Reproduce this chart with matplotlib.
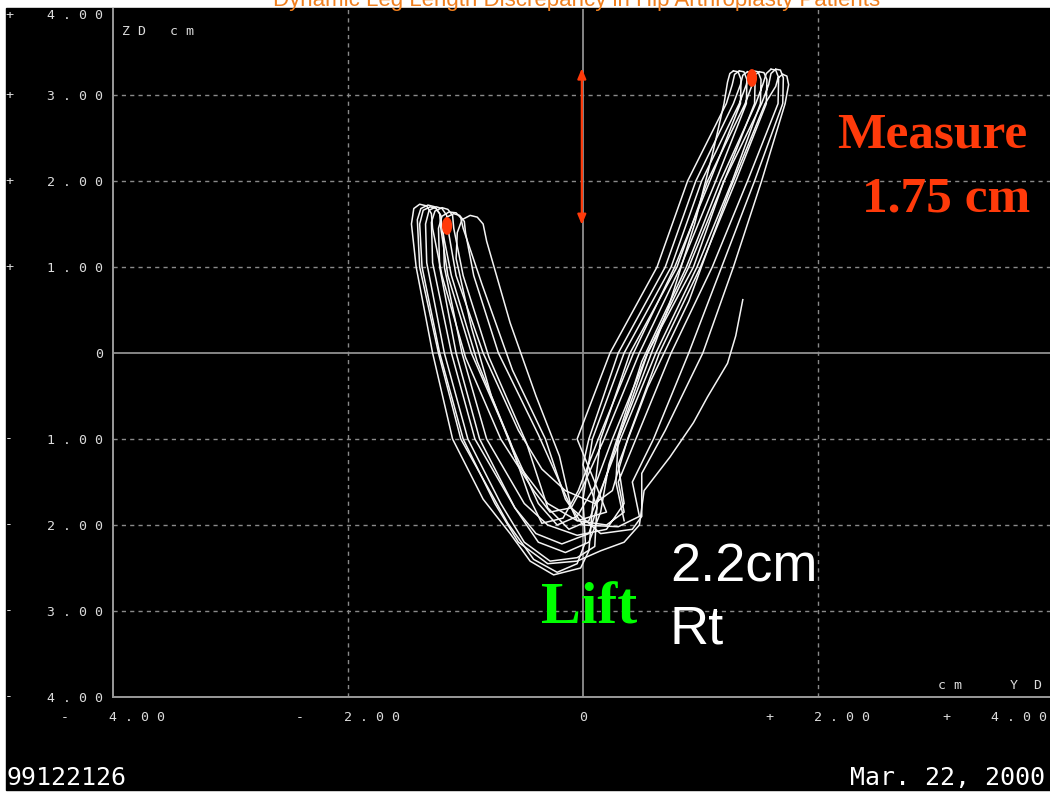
"""
Dynamic leg length plot: ZD vs YD trace of a hip arthroplasty patient.
"""

import matplotlib
matplotlib.use("Agg")
import matplotlib.pyplot as plt
import matplotlib.transforms as mtransforms
from matplotlib.patches import Ellipse, Rectangle

W, H = 1050, 794

# Axis ticks (cm)
yd_ticks = [-4, -2, 0, 2, 4]
yd_labels = ["-     4 . 0 0", "-     2 . 0 0", "0", "+     2 . 0 0", "+     4 . 0 0"]
zd_ticks = [-4, -3, -2, -1, 0, 1, 2, 3, 4]
zd_labels = ["4 . 0 0", "3 . 0 0", "2 . 0 0", "1 . 0 0", "0",
             "1 . 0 0", "2 . 0 0", "3 . 0 0", "4 . 0 0"]
zd_signs = ["-", "-", "-", "-", "", "+", "+", "+", "+"]

# Traced gait cycles, (YD, ZD) in cm
cycle_0 = [(0.35, -1.95), (0.28, -1.5), (0.3, -1.0), (0.5, -0.3), (0.72, 0.5), (0.95, 1.5),
           (1.1, 2.3), (1.2, 2.9), (1.23, 3.15), (1.25, 3.25), (1.28, 3.28)]
cycle_1 = [(1.28, 3.28), (1.32, 3.27), (1.345, 3.18), (1.34, 2.9), (1.08, 2.0), (0.78, 1.0),
           (0.43, 0.0), (0.13, -1.0), (-0.04, -1.6), (-0.17, -1.92), (-0.35, -1.98),
           (-0.45, -1.7), (-0.63, -1.0), (-0.95, 0.0), (-1.15, 0.9), (-1.21, 1.45),
           (-1.22, 1.62), (-1.26, 1.7), (-1.32, 1.72), (-1.38, 1.68), (-1.41, 1.55),
           (-1.39, 1.0), (-1.23, 0.0), (-1.04, -1.0), (-0.64, -1.98), (-0.42, -2.4),
           (-0.22, -2.55), (-0.05, -2.45), (0.02, -2.2), (0.0, -1.7), (0.08, -1.0),
           (0.35, 0.0), (0.75, 1.0), (1.01, 2.0), (1.33, 2.9), (1.39, 3.12), (1.41, 3.24),
           (1.45, 3.28)]
cycle_2 = [(1.45, 3.28), (1.49, 3.27), (1.515, 3.18), (1.51, 2.9), (1.27, 2.0), (0.97, 1.0),
           (0.62, 0.0), (0.32, -1.0), (0.15, -1.6), (0.05, -1.95), (-0.12, -2.05),
           (-0.3, -1.8), (-0.48, -1.05), (-0.80, -0.05), (-1.02, 0.9), (-1.10, 1.45),
           (-1.11, 1.6), (-1.15, 1.67), (-1.2, 1.69), (-1.26, 1.65), (-1.29, 1.52),
           (-1.28, 1.05), (-1.12, 0.0), (-0.92, -1.0), (-0.58, -1.8), (-0.38, -2.2),
           (-0.15, -2.32), (0.05, -2.2), (0.15, -1.85), (0.22, -1.3), (0.5, -0.1),
           (0.88, 1.0), (1.17, 2.0), (1.47, 2.9), (1.53, 3.12), (1.56, 3.25), (1.60, 3.3)]
cycle_3 = [(1.60, 3.3), (1.64, 3.29), (1.665, 3.2), (1.66, 2.9), (1.40, 2.0), (1.1, 1.0),
           (0.75, 0.0), (0.45, -1.0), (0.3, -1.5), (0.35, -1.85), (0.2, -2.0),
           (-0.05, -1.95), (-0.2, -1.5), (-0.38, -0.95), (-0.72, 0.0), (-0.93, 0.9),
           (-1.0, 1.4), (-1.01, 1.53), (-1.05, 1.6), (-1.1, 1.62), (-1.16, 1.58),
           (-1.19, 1.45), (-1.18, 1.0), (-1.03, 0.0), (-0.82, -1.0), (-0.5, -1.75),
           (-0.3, -2.0), (-0.05, -2.12), (0.2, -2.05), (0.35, -1.75), (0.3, -1.3),
           (0.55, -0.4), (0.9, 0.6), (1.25, 1.9), (1.55, 2.9), (1.64, 3.1), (1.66, 3.2),
           (1.70, 3.24)]
cycle_4 = [(1.70, 3.24), (1.735, 3.22), (1.75, 3.12), (1.72, 2.9), (1.52, 2.0), (1.28, 1.0),
           (1.02, 0.0), (0.7, -0.9), (0.5, -1.4), (0.5, -1.9), (0.42, -2.05),
           (0.15, -2.1), (-0.1, -1.8), (-0.2, -1.2), (-0.4, -0.5), (-0.62, 0.35),
           (-0.82, 1.3), (-0.85, 1.5), (-0.9, 1.58), (-0.96, 1.6), (-1.03, 1.55),
           (-1.07, 1.4), (-1.08, 1.1), (-0.95, 0.3), (-0.78, -0.5), (-0.55, -1.3),
           (-0.3, -1.75), (-0.05, -1.95), (0.2, -1.85), (0.1, -1.5), (-0.05, -1.0),
           (0.23, 0.0), (0.63, 1.0), (0.89, 2.0), (1.22, 2.9), (1.27, 3.12), (1.29, 3.24),
           (1.33, 3.28)]
cycle_5 = [(1.33, 3.28), (1.37, 3.27), (1.395, 3.18), (1.39, 2.9), (1.13, 2.0), (0.83, 1.0),
           (0.48, 0.0), (0.18, -1.0), (0.0, -1.55), (-0.1, -1.8), (-0.28, -1.85),
           (-0.42, -1.6), (-0.7, -1.0), (-1.0, -0.05), (-1.2, 0.9), (-1.28, 1.45),
           (-1.29, 1.62), (-1.33, 1.71), (-1.39, 1.73), (-1.44, 1.68), (-1.46, 1.5),
           (-1.42, 1.0), (-1.28, 0.0), (-1.11, -1.0), (-0.85, -1.7), (-0.62, -2.1),
           (-0.45, -2.42), (-0.25, -2.58), (-0.02, -2.5), (0.05, -2.3), (0.08, -1.8),
           (0.15, -1.0), (0.4, 0.0), (0.8, 1.0), (1.06, 2.0), (1.38, 2.9), (1.44, 3.12),
           (1.46, 3.23), (1.50, 3.27)]
cycle_6 = [(1.50, 3.27), (1.54, 3.26), (1.565, 3.18), (1.56, 2.9), (1.3, 2.0), (1.0, 1.0),
           (0.65, 0.0), (0.38, -1.0), (0.25, -1.6), (0.1, -1.75), (-0.15, -1.6),
           (-0.35, -1.35), (-0.55, -0.9), (-0.85, 0.0), (-1.08, 0.9), (-1.15, 1.45),
           (-1.16, 1.6), (-1.2, 1.68), (-1.25, 1.7), (-1.31, 1.66), (-1.34, 1.5),
           (-1.33, 1.05), (-1.18, 0.0), (-0.98, -1.0), (-0.7, -1.75), (-0.5, -2.2),
           (-0.28, -2.42), (-0.05, -2.38), (0.1, -2.25), (0.12, -1.75), (0.3, -1.0),
           (0.55, 0.0), (0.94, 1.0), (1.2, 2.0), (1.52, 2.9), (1.58, 3.12), (1.60, 3.25),
           (1.64, 3.3)]
cycle_7 = [(1.64, 3.3), (1.68, 3.29), (1.705, 3.2), (1.7, 2.9), (1.46, 2.0), (1.18, 1.0),
           (0.9, 0.0), (0.6, -1.0), (0.42, -1.5), (0.48, -1.9), (0.3, -2.02), (0.0, -2.0),
           (-0.15, -1.7), (-0.32, -1.0), (-0.6, -0.2), (-0.86, 0.8), (-1.02, 1.45),
           (-1.04, 1.57), (-1.08, 1.63), (-1.14, 1.64), (-1.2, 1.59), (-1.23, 1.45),
           (-1.22, 1.0), (-1.08, 0.0), (-0.88, -1.0), (-0.58, -1.8), (-0.4, -2.1),
           (-0.18, -2.22), (0.05, -2.1), (0.12, -1.8), (0.0, -1.3), (0.05, -1.0),
           (0.3, 0.0), (0.7, 1.0), (0.96, 2.0), (1.28, 2.9), (1.34, 3.12), (1.36, 3.23),
           (1.40, 3.27)]
cycle_8 = [(1.40, 3.27), (1.44, 3.26), (1.465, 3.18), (1.46, 2.9), (1.2, 2.0), (0.9, 1.0),
           (0.55, 0.0), (0.25, -1.0), (0.1, -1.55), (-0.05, -1.9), (-0.22, -2.0),
           (-0.38, -1.75), (-0.6, -1.1), (-0.9, -0.1), (-1.12, 0.9), (-1.2, 1.45),
           (-1.21, 1.6), (-1.25, 1.68), (-1.3, 1.7), (-1.36, 1.66), (-1.39, 1.5),
           (-1.37, 1.0), (-1.22, 0.0), (-1.02, -1.0), (-0.75, -1.75), (-0.55, -2.2),
           (-0.3, -2.45), (-0.05, -2.42), (0.15, -2.3), (0.35, -2.2), (0.48, -2.0),
           (0.52, -1.6), (0.74, -1.21), (0.94, -0.81), (1.06, -0.51), (1.23, -0.12),
           (1.30, 0.2), (1.36, 0.62)]
cycles = [cycle_0, cycle_1, cycle_2, cycle_3, cycle_4, cycle_5, cycle_6, cycle_7, cycle_8]

# Marked peaks (YD, ZD) and the measured lift
peak_left = (-1.157, 1.477)
peak_right = (1.438, 3.198)
measure_yd = -0.01
measure_z = (1.49, 3.31)

RED = "#ff3a0a"
GRID = "#8a8a8a"
LABEL = "#dcdcdc"


def px(x, y):
    """Pixel position in the 1050x794 picture -> figure fraction."""
    return x / W, 1 - y / H


fig = plt.figure(figsize=(W / 100, H / 100), dpi=100, facecolor="white")

# black screen capture area
fig.patches.append(Rectangle((6 / W, 4 / H), (W - 6) / W, 782 / H,
                             transform=fig.transFigure, color="black", zorder=-5))

ax = fig.add_axes([113 / W, 97 / H, 940 / W, 688 / H])
ax.set_zorder(2)
ax.set_facecolor("black")
ax.set_xlim(-4, 4)
ax.set_ylim(-4, 4)

for side in ["top", "right"]:
    ax.spines[side].set_visible(False)
for side in ["left", "bottom"]:
    ax.spines[side].set_color("#9a9a9a")
    ax.spines[side].set_linewidth(1.4)

# grid
for v in [-2, 2]:
    ax.axvline(v, color=GRID, ls=(0, (3, 3)), lw=1.0, zorder=1)
for v in [-3, -2, -1, 1, 2, 3]:
    ax.axhline(v, color=GRID, ls=(0, (3, 3)), lw=1.0, zorder=1)
ax.axvline(0, color="#8f8f8f", lw=1.3, zorder=1)
ax.axhline(0, color="#8f8f8f", lw=1.3, zorder=1)

# ticks; the +4 label sits flush with the right edge, so it is drawn separately
mono = "DejaVu Sans Mono"
ax.tick_params(length=0, colors=LABEL)
ax.set_xticks(yd_ticks)
ax.set_xticklabels(yd_labels[:-1] + [""], fontfamily=mono, fontsize=9.5, color=LABEL)
ax.tick_params(axis="x", pad=10)
xlab_tr = mtransforms.blended_transform_factory(ax.transData, ax.transAxes)
ax.text(yd_ticks[-1] - 0.05, -0.0305, yd_labels[-1], transform=xlab_tr, ha="right",
        va="center", fontfamily=mono, fontsize=9.5, color=LABEL, clip_on=False)

ax.set_yticks(zd_ticks)
ax.set_yticklabels(zd_labels, fontfamily=mono, fontsize=9.5, color=LABEL)
ax.tick_params(axis="y", pad=7)
ax.get_yticklabels()[-1].set_va("top")

sign_tr = mtransforms.blended_transform_factory(fig.transFigure, ax.transData)
for z, s in zip(zd_ticks, zd_signs):
    if s:
        ax.text(9 / W, z - (0.07 if z == 4 else 0), s, transform=sign_tr, ha="center",
                va="center", fontfamily=mono, fontsize=9.5, color=LABEL, clip_on=False)

ax.text(0.01, 0.967, "Z D   c m", transform=ax.transAxes, fontfamily=mono,
        fontsize=9.5, color=LABEL, va="center")
ax.text(0.988, 0.017, "c m      Y  D", transform=ax.transAxes, fontfamily=mono,
        fontsize=9.5, color=LABEL, va="center", ha="right")

# traces
for c in cycles:
    ys = [p[0] for p in c]
    zs = [p[1] for p in c]
    ax.plot(ys, zs, color="#f4f4f4", lw=1.1, zorder=3, solid_joinstyle="round")

# marked peaks
for p in [peak_left, peak_right]:
    ax.add_patch(Ellipse(p, 0.075, 0.19, color=RED, zorder=4))

ax.annotate("", xy=(measure_yd, measure_z[0]), xytext=(measure_yd, measure_z[1]),
            arrowprops=dict(arrowstyle="<|-|>,head_length=0.6,head_width=0.25",
                            color=RED, lw=1.6, shrinkA=0, shrinkB=0), zorder=4)

# annotations
fig.text(*px(932, 135), "Measure", ha="center", va="center", fontsize=37,
         fontfamily="Liberation Serif", fontweight="bold", color=RED, zorder=5)
fig.text(*px(1030, 199), "1.75 cm", ha="right", va="center", fontsize=37,
         fontfamily="Liberation Serif", fontweight="bold", color=RED, zorder=5)
fig.text(*px(589, 610), "Lift", ha="center", va="center", fontsize=43,
         fontfamily="Liberation Serif", fontweight="bold", color="#00ff00", zorder=5)
fig.text(*px(670, 568), "2.2cm", ha="left", va="center", fontsize=39,
         fontfamily="Liberation Sans", color="white", zorder=5)
fig.text(*px(670, 630), "Rt", ha="left", va="center", fontsize=39,
         fontfamily="Liberation Sans", color="white", zorder=5)

fig.text(*px(7, 778), "99122126", ha="left", va="center", fontsize=18,
         fontfamily=mono, color="white")
fig.text(*px(1045, 778), "Mar. 22, 2000", ha="right", va="center", fontsize=18,
         fontfamily=mono, color="white")

# slide title, cut off at the top edge as in the source slide
fig.text(*px(577, 6), "Dynamic Leg Length Discrepancy in Hip Arthroplasty Patients",
         ha="center", va="baseline", fontsize=16, fontfamily="Liberation Sans",
         color="#f07f1e")

fig.savefig("out.png", dpi=100, facecolor=fig.get_facecolor())
